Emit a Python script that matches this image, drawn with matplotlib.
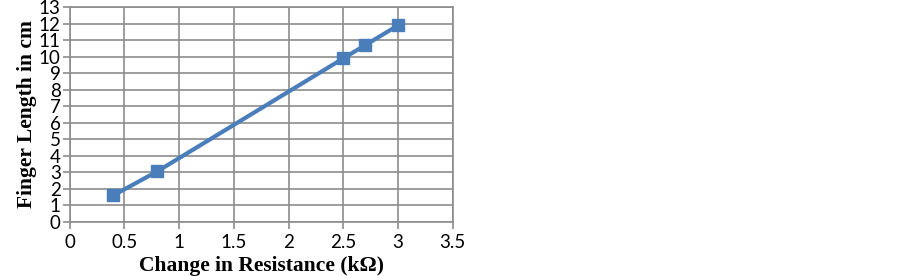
import matplotlib
matplotlib.use("Agg")
import matplotlib.pyplot as plt

resistance = [0.4, 0.8, 2.5, 2.7, 3.0]
finger_length = [1.6, 3.05, 9.9, 10.7, 11.9]
x_ticks = [0, 0.5, 1, 1.5, 2, 2.5, 3, 3.5]
x_tick_labels = ["0", "0.5", "1", "1.5", "2", "2.5", "3", "3.5"]
y_ticks = list(range(0, 14))

fig = plt.figure(figsize=(9.03, 2.76), dpi=100)
ax = fig.add_axes([0.0772, 0.1967, 0.4241, 0.7769])

grid_color = "#8c8c8c"
ax.plot(resistance, finger_length, color="#4a7ebb", lw=3.0, marker="s",
        markersize=8.8, markerfacecolor="#4a7ebb", markeredgecolor="#4a7ebb",
        zorder=3)

ax.set_xlim(0, 3.5)
ax.set_ylim(0, 13)
ax.set_xticks(x_ticks)
ax.set_xticklabels(x_tick_labels)
ax.set_yticks(y_ticks)
ax.grid(True, color=grid_color, lw=1.2)
ax.set_axisbelow(True)
for s in ax.spines.values():
    s.set_color(grid_color)
    s.set_linewidth(1.2)
ax.tick_params(axis="both", direction="out", length=5, width=1.2,
               color=grid_color, labelsize=13.5, pad=1.5)
ax.tick_params(axis="x", pad=3.5)
for lab in ax.get_xticklabels() + ax.get_yticklabels():
    lab.set_family(["Lato", "DejaVu Sans"])

ax.set_xlabel("Change in Resistance (k\u03a9)", fontsize=15.5, fontweight="bold",
              family=["Liberation Serif", "DejaVu Serif"], labelpad=4)
ax.set_ylabel("Finger Length in cm", fontsize=15.5, fontweight="bold",
              family=["Liberation Serif", "DejaVu Serif"], labelpad=1)

fig.savefig("out.png", dpi=100)
